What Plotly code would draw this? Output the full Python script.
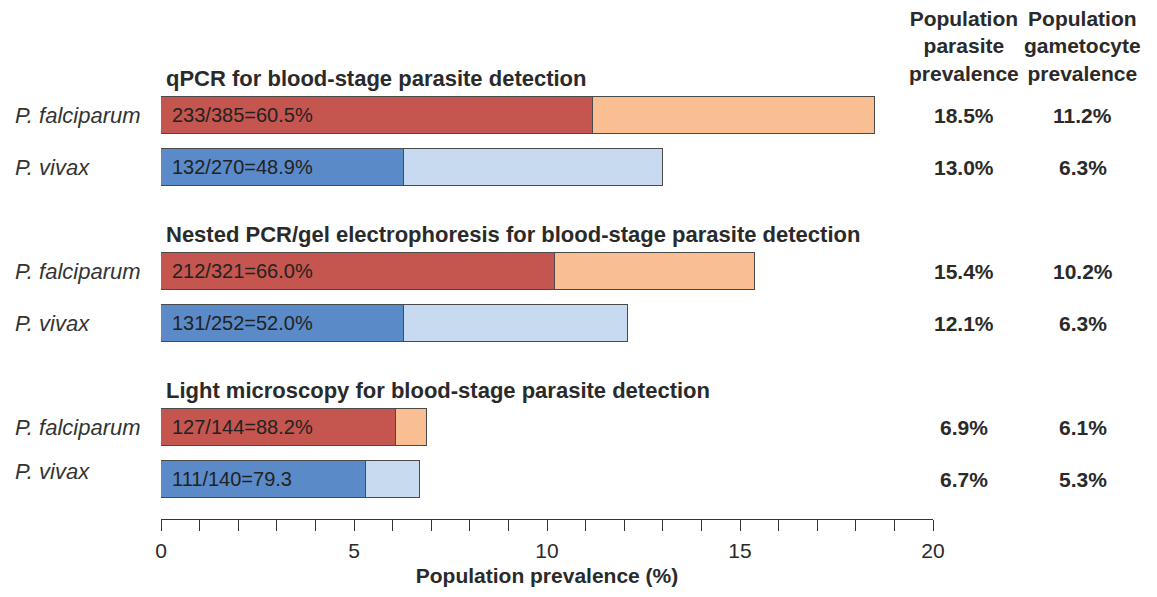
import plotly.graph_objects as go

# ---- data ----
methods = ["qPCR for blood-stage parasite detection",
           "Nested PCR/gel electrophoresis for blood-stage parasite detection",
           "Light microscopy for blood-stage parasite detection"]
species = ["P. falciparum", "P. vivax"] * 3
parasite_prev = [18.5, 13.0, 15.4, 12.1, 6.9, 6.7]
gametocyte_prev = [11.2, 6.3, 10.2, 6.3, 6.1, 5.3]
bar_labels = ["233/385=60.5%", "132/270=48.9%", "212/321=66.0%",
              "131/252=52.0%", "127/144=88.2%", "111/140=79.3"]
parasite_txt = ["18.5%", "13.0%", "15.4%", "12.1%", "6.9%", "6.7%"]
gametocyte_txt = ["11.2%", "6.3%", "10.2%", "6.3%", "6.1%", "5.3%"]
col_headers = ["Population<br>parasite<br>prevalence", "Population<br>gametocyte<br>prevalence"]

# ---- styling ----
ypos = [0, 1, 3, 4, 6, 7]
label_shift = [0, 0, 0, 0, 0, 8]
dark_cols = ["#C4554F", "#5B8AC8"] * 3
light_cols = ["#F9BF92", "#C7DAF0"] * 3
txt = "#2a2a2a"
font = "Liberation Sans, Arial, sans-serif"
col_x = [1.040, 1.1943]

fig = go.Figure()
fig.add_trace(go.Bar(
    y=ypos, x=gametocyte_prev, orientation="h", width=0.7,
    marker=dict(color=dark_cols, line=dict(color="#4a4a4a", width=1.2)),
    hoverinfo="skip", showlegend=False))
fig.add_trace(go.Bar(
    y=ypos, x=[p - g for p, g in zip(parasite_prev, gametocyte_prev)],
    orientation="h", width=0.7,
    marker=dict(color=light_cols, line=dict(color="#4a4a4a", width=1.2)),
    hoverinfo="skip", showlegend=False))

ann = []
for i, m in enumerate(methods):
    ann.append(dict(x=0, y=ypos[2 * i] - 0.72, xref="x", yref="y", text="<b>" + m + "</b>",
                    showarrow=False, xanchor="left", xshift=3, yanchor="middle",
                    font=dict(size=22, color=txt, family=font)))
for i in range(6):
    ann.append(dict(x=-0.192, y=ypos[i], xref="paper", yref="y", text="<i>" + species[i] + "</i>",
                    showarrow=False, xanchor="left", yanchor="middle", yshift=label_shift[i],
                    font=dict(size=22, color="#333333", family=font)))
    ann.append(dict(x=0, y=ypos[i], xref="x", yref="y", text=bar_labels[i],
                    showarrow=False, xanchor="left", xshift=9, yanchor="middle",
                    font=dict(size=20, color="#222222", family=font)))
    ann.append(dict(x=col_x[0], y=ypos[i], xref="paper", yref="y", text="<b>" + parasite_txt[i] + "</b>",
                    showarrow=False, xanchor="center", yanchor="middle",
                    font=dict(size=21, color=txt, family=font)))
    ann.append(dict(x=col_x[1], y=ypos[i], xref="paper", yref="y", text="<b>" + gametocyte_txt[i] + "</b>",
                    showarrow=False, xanchor="center", yanchor="middle",
                    font=dict(size=21, color=txt, family=font)))
for cx, h in zip(col_x, col_headers):
    ann.append(dict(x=cx, y=-1.337, xref="paper", yref="y", text="<b>" + h + "</b>",
                    showarrow=False, xanchor="center", yanchor="middle",
                    font=dict(size=21, color=txt, family=font)))

fig.update_layout(
    width=1157, height=589, barmode="stack",
    margin=dict(l=153, r=232, t=0, b=78),
    plot_bgcolor="white", paper_bgcolor="white",
    annotations=ann, bargap=0,
    xaxis=dict(range=[0, 20], tickvals=[0, 5, 10, 15, 20], ticks="outside", ticklen=11,
               tickcolor="#333333", tickwidth=1.2, showline=True, linecolor="#333333",
               linewidth=1.2, showgrid=False, zeroline=False, ticklabelstandoff=2,
               minor=dict(dtick=1, ticks="outside", ticklen=11, tickcolor="#333333", tickwidth=1.2),
               tickfont=dict(size=21, color=txt, family=font),
               title=dict(text="<b>Population prevalence (%)</b>", standoff=7,
                          font=dict(size=21, color=txt, family=font))),
    yaxis=dict(range=[7.76, -2.067], visible=False, showgrid=False, zeroline=False),
)
fig.write_html("out.html")
